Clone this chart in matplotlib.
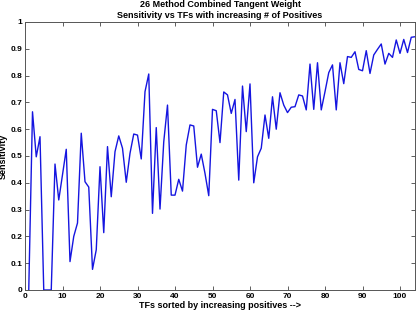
import matplotlib
matplotlib.use("Agg")
import matplotlib.pyplot as plt

tf_index = list(range(1, 105))
sensitivity = [
    0.0, 0.665, 0.497, 0.572, 0.0, 0.0, 0.0, 0.47, 0.336, 0.43,
    0.525, 0.106, 0.20, 0.25, 0.585, 0.404, 0.384, 0.077, 0.15, 0.46,
    0.214, 0.535, 0.348, 0.516, 0.575, 0.529, 0.402, 0.51, 0.582, 0.578,
    0.489, 0.74, 0.806, 0.286, 0.606, 0.302, 0.553, 0.69, 0.354, 0.354,
    0.413, 0.369, 0.541, 0.616, 0.612, 0.458, 0.507, 0.435, 0.352, 0.674,
    0.669, 0.55, 0.739, 0.728, 0.659, 0.711, 0.41, 0.761, 0.591, 0.769,
    0.40, 0.497, 0.529, 0.653, 0.566, 0.721, 0.60, 0.736, 0.69, 0.662,
    0.682, 0.684, 0.728, 0.724, 0.672, 0.843, 0.674, 0.848, 0.672, 0.74,
    0.811, 0.84, 0.672, 0.848, 0.77, 0.871, 0.868, 0.889, 0.823, 0.818,
    0.893, 0.808, 0.877, 0.898, 0.918, 0.843, 0.883, 0.868, 0.933, 0.883,
    0.935, 0.886, 0.943, 0.945,
]
xticks = list(range(0, 101, 10))
yticks = [0, 0.1, 0.2, 0.3, 0.4, 0.5, 0.6, 0.7, 0.8, 0.9, 1]
ytick_labels = ["0", "0.1", "0.2", "0.3", "0.4", "0.5", "0.6", "0.7", "0.8", "0.9", "1"]

plt.rcParams['font.family'] = ['Liberation Sans', 'DejaVu Sans']

fig = plt.figure(figsize=(4.16, 3.10), dpi=100)
ax = fig.add_axes([25/416, 1 - 290/310, 390/416, 268/310])
ax.plot(tf_index, sensitivity, color='#1515e0', linewidth=1.0)
ax.set_xlim(0, 104)
ax.set_ylim(0, 1)
ax.set_xticks(xticks)
ax.set_xticklabels([str(t) for t in xticks])
ax.set_yticks(yticks)
ax.set_yticklabels(ytick_labels)
ax.tick_params(direction='in', top=True, right=True, length=3, width=0.6,
               labelsize=6, pad=2, color='#444444')
for lab in ax.get_xticklabels() + ax.get_yticklabels():
    lab.set_fontweight('bold')
for sp in ax.spines.values():
    sp.set_color('#555555')
    sp.set_linewidth(0.7)
ax.set_xlabel("TFs sorted by increasing positives -->", fontsize=6.5, fontweight='bold', labelpad=1)
ax.set_ylabel("Sensitivity", fontsize=6.5, fontweight='bold', labelpad=2)
ax.set_title("26 Method Combined Tangent Weight\nSensitivity vs TFs with increasing # of Positives",
             fontsize=6.5, fontweight='bold', pad=3, linespacing=1.2)
fig.savefig("out.png", dpi=100)
